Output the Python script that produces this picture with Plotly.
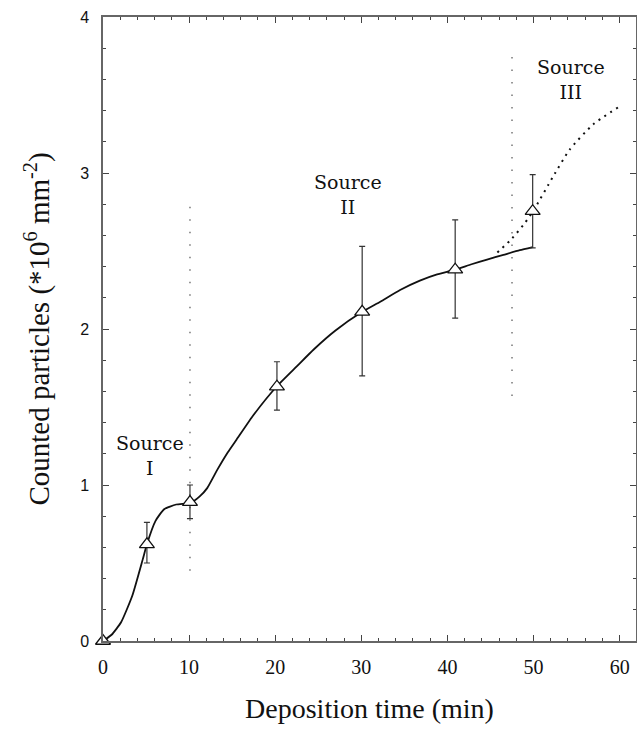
import plotly.graph_objects as go

# Measured deposition counts (triangles) with asymmetric error bars
t_meas = [0, 5.1, 10.1, 20.2, 30.1, 40.9, 49.9]
n_meas = [0, 0.62, 0.89, 1.63, 2.11, 2.38, 2.755]
err_hi = [0, 0.14, 0.11, 0.16, 0.42, 0.32, 0.235]
err_lo = [0, 0.12, 0.105, 0.15, 0.41, 0.31, 0.235]

# Fitted curve for sources I and II (solid)
t_fit = [0, 1, 2.1, 3.4, 4.6, 5.1, 6.1, 7.1, 8.5, 10.2, 11.2, 12.1, 13.3, 14.5, 15.5,
         17.5, 20.2, 22.5, 24.5, 27.0, 30.1, 32.2, 34.5, 36.8, 38.8, 40.9, 42.8,
         44.6, 46.5, 48.4, 49.9]
n_fit = [0, 0.04, 0.12, 0.29, 0.52, 0.62, 0.77, 0.845, 0.875, 0.886, 0.925, 0.98,
         1.10, 1.21, 1.29, 1.45, 1.633, 1.76, 1.87, 1.99, 2.11, 2.175, 2.25, 2.31,
         2.35, 2.38, 2.415, 2.445, 2.475, 2.505, 2.525]

# Extrapolated curve including source III (dotted)
t_ext = [45.8, 47.5, 49.0, 50.0, 52.3, 54.2, 56.9, 59.8]
n_ext = [2.49, 2.58, 2.68, 2.76, 2.98, 3.15, 3.31, 3.42]

# Source switch-over markers (vertical dotted lines)
t_switch1 = [10.1, 10.1]
n_switch1 = [0.45, 2.8]
t_switch2 = [47.5, 47.5]
n_switch2 = [1.57, 3.76]

# Source labels
src_text = ["Source<br>I", "Source<br>II", "Source<br>III"]
src_x = [5.5, 28.4, 54.4]
src_y = [1.19, 2.86, 3.6]

serif = "Liberation Serif, Times New Roman, Times, serif"
label_serif = "DejaVu Serif, serif"
sans = "Liberation Sans, Arial, Helvetica, sans-serif"

fig = go.Figure()

for tx, ny in [(t_switch1, n_switch1), (t_switch2, n_switch2)]:
    fig.add_trace(go.Scatter(
        x=tx, y=ny, mode="lines",
        line=dict(color="#777777", width=1.5, dash="1.5px,11px"),
        hoverinfo="skip", showlegend=False))

fig.add_trace(go.Scatter(
    x=t_ext, y=n_ext, mode="lines", line_shape="spline", line_smoothing=0.6,
    line=dict(color="#111111", width=2, dash="2px,5px"),
    showlegend=False))

fig.add_trace(go.Scatter(
    x=t_fit, y=n_fit, mode="lines", line_shape="spline", line_smoothing=0.5,
    line=dict(color="#111111", width=1.8),
    showlegend=False))

fig.add_trace(go.Scatter(
    x=t_meas, y=n_meas, mode="markers",
    marker=dict(symbol="triangle-up", size=13, color="white",
                line=dict(color="#111111", width=1.3)),
    error_y=dict(type="data", array=err_hi, arrayminus=err_lo,
                 color="#333333", thickness=1.2, width=3),
    cliponaxis=False, showlegend=False))

for txt, x, y in zip(src_text, src_x, src_y):
    fig.add_annotation(x=x, y=y, text=txt, showarrow=False,
                       font=dict(family=label_serif, size=19, color="#111111"))

axis_common = dict(
    showline=True, linecolor="#666666", linewidth=1.5, mirror="ticks",
    ticks="inside", tickcolor="#444444", ticklen=6, tickwidth=1.2,
    showgrid=False, zeroline=False,
)

fig.update_xaxes(
    range=[0, 61.9], tickvals=[0, 10, 20, 30, 40, 50, 60],
    minor=dict(dtick=2, ticks="inside", ticklen=3, tickcolor="#444444", tickwidth=1),
    tickfont=dict(family=serif, size=20, color="#111111"),
    ticklabelstandoff=7,
    title=dict(text="Deposition time (min)",
               font=dict(family=serif, size=28, color="#111111"), standoff=22),
    **axis_common)

fig.update_yaxes(
    range=[0, 4], tickvals=[0, 1, 2, 3, 4],
    minor=dict(dtick=0.2, ticks="inside", ticklen=3, tickcolor="#444444", tickwidth=1),
    tickfont=dict(family=sans, size=16, color="#111111"),
    ticklabelstandoff=9,
    title=dict(text="Counted particles (*10<sup>6</sup> mm<sup>-2</sup>)",
               font=dict(family=serif, size=29, color="#111111"), standoff=22),
    **axis_common)

fig.update_layout(
    width=637, height=730,
    margin=dict(l=103, r=1, t=17, b=89, autoexpand=False),
    paper_bgcolor="white", plot_bgcolor="white",
)

fig.write_html("out.html")
